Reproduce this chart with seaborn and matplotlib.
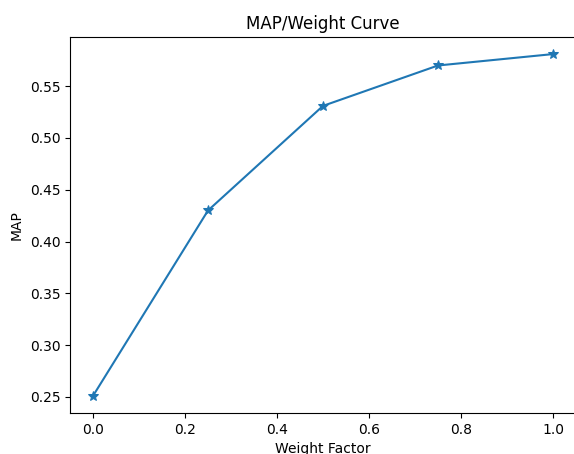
import matplotlib
matplotlib.use("Agg")
import matplotlib.pyplot as plt
import pandas as pd
import seaborn as sns

weight_factor = [0.0, 0.25, 0.5, 0.75, 1.0]
map_values = [0.251, 0.430, 0.531, 0.570, 0.581]

df = pd.DataFrame({"Weight Factor": weight_factor, "MAP": map_values})

fig = plt.figure(figsize=(5.74, 4.54), dpi=100)
ax = fig.add_axes([70 / 574, 41 / 454, 506 / 574, 376 / 454])
sns.lineplot(data=df, x="Weight Factor", y="MAP", marker="*", markersize=7,
             markeredgecolor="#1f77b4", color="#1f77b4", linewidth=1.5, ax=ax)
ax.set_title("MAP/Weight Curve")
ax.set_xlabel("Weight Factor")
ax.set_ylabel("MAP")

fig.savefig("out.png", dpi=100)
plt.close(fig)
